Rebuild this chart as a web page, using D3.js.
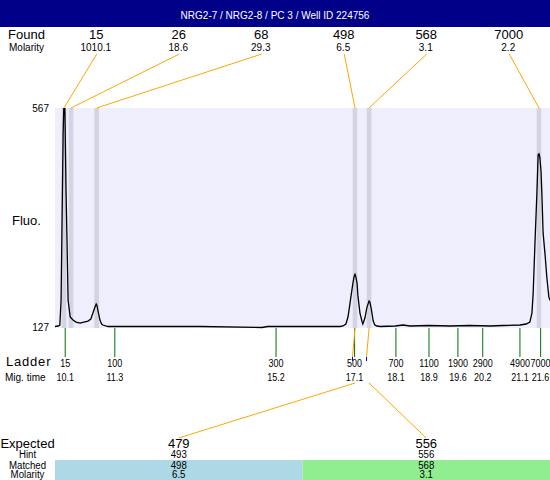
<!DOCTYPE html>
<html>
<head>
<meta charset="utf-8">
<script src="https://cdn.jsdelivr.net/npm/d3@7"></script>
<style>
body { margin: 0; background: #fff; }
svg text { font-family: "Liberation Sans", Arial, sans-serif; fill: #000; }
</style>
</head>
<body>
<svg id="chart" width="550" height="480"></svg>
<script>
// ------------------------------
// DATA
// ------------------------------
var title = "NRG2-7 / NRG2-8 / PC 3 / Well ID 224756";

// found peaks: size, molarity, migration time (s)
var foundSizes    = [15, 26, 68, 498, 568, 7000];
var foundMolarity = ["1010.1", "18.6", "29.3", "6.5", "3.1", "2.2"];
var foundTimes    = [10.07, 10.24, 10.86, 17.11, 17.45, 21.56];

// ladder sizes and their migration times
var ladderSizes = [15, 100, 300, 500, 700, 1100, 1900, 2900, 4900, 7000];
var ladderTimes = [10.1, 11.3, 15.2, 17.1, 18.1, 18.9, 19.6, 20.2, 21.1, 21.6];

// fluorescence axis limits
var fluoRange = [127, 567];

// trace: migration time / fluorescence
var traceTimes = [9.85, 9.93, 9.97, 10.00, 10.02, 10.05, 10.07, 10.09, 10.10, 10.12, 10.14, 10.17,
                  10.22, 10.29, 10.36, 10.46, 10.55, 10.65, 10.72, 10.77, 10.82, 10.85, 10.87, 10.89,
                  10.94, 10.98, 11.01, 11.14, 12.15, 13.36, 14.86, 15.00, 15.78, 16.75, 16.82, 16.89,
                  16.94, 16.99, 17.01, 17.06, 17.09, 17.11, 17.13, 17.16, 17.18, 17.23, 17.28, 17.30,
                  17.35, 17.40, 17.45, 17.47, 17.50, 17.52, 17.55, 17.59, 17.64, 17.72, 18.08, 18.27,
                  18.44, 18.90, 19.41, 19.89, 20.38, 20.69, 21.10, 21.25, 21.34, 21.39, 21.42, 21.46,
                  21.51, 21.54, 21.56, 21.58, 21.61, 21.63, 21.66, 21.71, 21.75, 21.80, 21.83];
var traceFluo  = [128, 129, 131, 180, 316, 517, 580, 580, 517, 400, 316, 181,
                  147, 141, 137, 135, 137, 139, 143, 155, 167, 173, 170, 161,
                  141, 133, 131, 128, 128, 128, 126, 128, 128, 128, 129, 133,
                  147, 175, 187, 215, 229, 233, 228, 215, 190, 155, 138, 133,
                  145, 167, 179, 177, 165, 155, 139, 131, 129, 128, 129, 131,
                  129, 130, 129, 130, 129, 130, 131, 133, 137, 155, 195, 288,
                  396, 473, 475, 469, 440, 396, 316, 270, 227, 187, 180];

// expected fragments table
var expectedSizes   = [479, 556];
var hintSizes       = [493, 556];
var matchedSizes    = [498, 568];
var matchedMolarity = ["6.5", "3.1"];
var matchedPeak     = [3, 4];   // index into found peaks
var tableColors     = ["#add8e6", "#90ee90"];

// ------------------------------
// LAYOUT
// ------------------------------
var svg = d3.select("#chart");
var W = 550;
var plot = {left: 55, right: 550, top: 108, bottom: 327};

var x = d3.scaleLinear().domain([9.853, 21.827]).range([plot.left, plot.right]);
var y = d3.scaleLinear().domain(fluoRange).range([plot.bottom, plot.top]);

// small helper for text
function label(x0, y0, txt, size, anchor) {
    return svg.append("text")
        .attr("x", x0).attr("y", y0)
        .attr("text-anchor", anchor || "start")
        .style("font-size", size + "px")
        .text(txt);
}

// title bar
svg.append("rect").attr("width", W).attr("height", 27).attr("fill", "#000088");
label(W / 2, 19, title, 10, "middle").style("fill", "#fff");

// ------------------------------
// FOUND peaks row
// ------------------------------
var fx = d3.scaleBand().domain(d3.range(foundSizes.length)).range([plot.left, plot.right]);
var fc = function (i) { return fx(i) + fx.bandwidth() / 2; };

label(8, 39, "Found", 13);
label(9, 51, "Molarity", 10);

svg.selectAll(".foundSize").data(foundSizes).enter().append("text")
    .attr("class", "foundSize")
    .attr("x", function (d, i) { return fc(i); }).attr("y", 39)
    .attr("text-anchor", "middle").style("font-size", "13px")
    .text(function (d) { return d; });

svg.selectAll(".foundMol").data(foundMolarity).enter().append("text")
    .attr("class", "foundMol")
    .attr("x", function (d, i) { return fc(i) - 0.5; }).attr("y", 51)
    .attr("text-anchor", "middle").style("font-size", "10px")
    .text(function (d) { return d; });

// ------------------------------
// PLOT
// ------------------------------
svg.append("rect")
    .attr("x", plot.left).attr("y", plot.top)
    .attr("width", plot.right - plot.left).attr("height", plot.bottom - plot.top + 1)
    .attr("fill", "#eeeefc");

// peak bands
svg.selectAll(".band").data(foundTimes).enter().append("rect")
    .attr("class", "band")
    .attr("x", function (d) { return x(d) - 2.3; })
    .attr("y", plot.top).attr("width", 4.6)
    .attr("height", plot.bottom - plot.top + 1)
    .attr("fill", "#d3d3e1");

// orange connectors from labels to peaks
svg.selectAll(".foundLink").data(foundTimes).enter().append("line")
    .attr("class", "foundLink")
    .attr("x1", function (d, i) { return fc(i) + 0.5; }).attr("y1", 54)
    .attr("x2", function (d) { return x(d); }).attr("y2", plot.top)
    .attr("stroke", "orange").attr("stroke-width", 1);

// trace
svg.append("clipPath").attr("id", "clip").append("rect")
    .attr("x", plot.left).attr("y", plot.top)
    .attr("width", plot.right - plot.left).attr("height", plot.bottom - plot.top + 2);

var line = d3.line()
    .x(function (d, i) { return x(traceTimes[i]); })
    .y(function (d) { return y(d); });

svg.append("path")
    .datum(traceFluo)
    .attr("clip-path", "url(#clip)")
    .attr("d", line)
    .attr("fill", "none").attr("stroke", "#000").attr("stroke-width", 1.3);

label(49, y(fluoRange[1]) + 3.5, fluoRange[1], 10, "end");
label(49, y(fluoRange[0]) + 3.5, fluoRange[0], 10, "end");
label(12, 225, "Fluo.", 13);

// ------------------------------
// LADDER
// ------------------------------
svg.selectAll(".ladTick").data(ladderTimes).enter().append("line")
    .attr("class", "ladTick")
    .attr("x1", function (d) { return x(d); }).attr("x2", function (d) { return x(d); })
    .attr("y1", plot.bottom + 1).attr("y2", 357)
    .attr("stroke", "#007000").attr("stroke-width", 1);

// ladder labels are squeezed a little, as in the original
svg.selectAll(".ladSize").data(ladderSizes).enter().append("text")
    .attr("class", "ladSize")
    .attr("transform", function (d, i) { return "translate(" + x(ladderTimes[i]) + ",367) scale(0.9,1)"; })
    .attr("text-anchor", "middle").style("font-size", "10px")
    .text(function (d) { return d; });

svg.selectAll(".ladTime").data(ladderTimes).enter().append("text")
    .attr("class", "ladTime")
    .attr("transform", function (d) { return "translate(" + x(d) + ",381) scale(0.9,1)"; })
    .attr("text-anchor", "middle").style("font-size", "10px")
    .text(function (d) { return d3.format(".1f")(d); });

label(6, 366, "Ladder", 13).style("letter-spacing", "0.8px");
label(5, 381, "Mig. time", 10);

// ------------------------------
// EXPECTED table
// ------------------------------
var tx = d3.scaleBand().domain(d3.range(expectedSizes.length)).range([plot.left, plot.right]);
var tc = function (i) { return tx(i) + tx.bandwidth() / 2; };

svg.selectAll(".tableBg").data(tableColors).enter().append("rect")
    .attr("class", "tableBg")
    .attr("x", function (d, i) { return tx(i); }).attr("y", 460)
    .attr("width", tx.bandwidth()).attr("height", 20)
    .attr("fill", function (d) { return d; });

// links from matched peaks down to expected sizes
matchedPeak.forEach(function (p, i) {
    var px = x(foundTimes[p]);
    svg.append("line")
        .attr("x1", px).attr("y1", plot.bottom + 1).attr("x2", px - 2.5).attr("y2", 357)
        .attr("stroke", "orange");
    svg.append("line")
        .attr("x1", px - 2.5).attr("y1", 357).attr("x2", px - 2.5).attr("y2", 361)
        .attr("stroke", "#0000cc");
    svg.append("line")
        .attr("x1", px).attr("y1", 383).attr("x2", tc(i)).attr("y2", 438)
        .attr("stroke", "orange");
});

var rows = [
    {name: "Expected", vals: expectedSizes,   y: 448, size: 13},
    {name: "Hint",     vals: hintSizes,       y: 458, size: 11},
    {name: "Matched",  vals: matchedSizes,    y: 469, size: 11},
    {name: "Molarity", vals: matchedMolarity, y: 478, size: 11}
];

rows.forEach(function (r) {
    var sx = r.size > 12 ? 1 : 0.88;
    svg.append("text")
        .attr("transform", "translate(27.5," + r.y + ") scale(" + sx + ",1)")
        .attr("text-anchor", "middle").style("font-size", r.size + "px")
        .text(r.name);
    r.vals.forEach(function (v, i) {
        svg.append("text")
            .attr("transform", "translate(" + tc(i) + "," + r.y + ") scale(" + sx + ",1)")
            .attr("text-anchor", "middle").style("font-size", r.size + "px")
            .text(v);
    });
});
</script>
</body>
</html>
